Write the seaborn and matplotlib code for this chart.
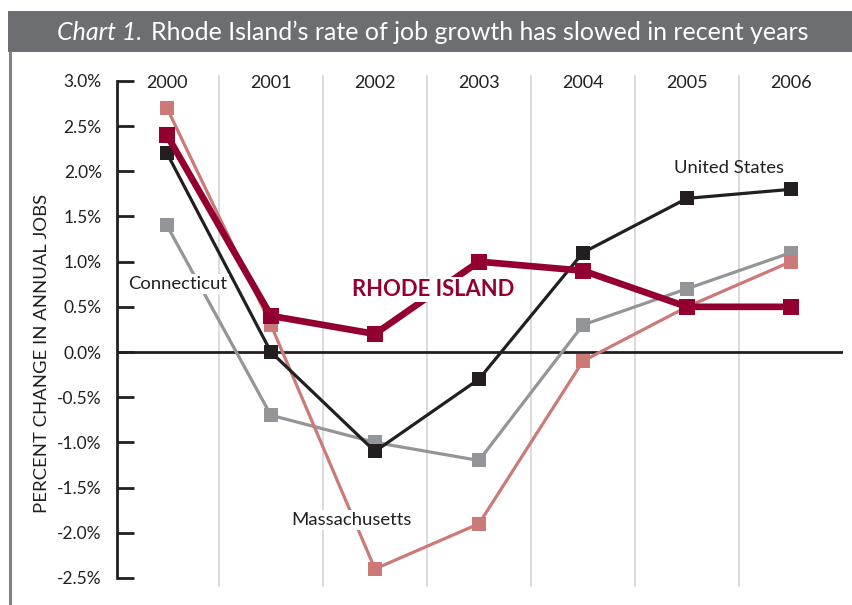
import matplotlib
matplotlib.use("Agg")
import matplotlib.pyplot as plt
import seaborn as sns
import pandas as pd
from matplotlib.patches import Rectangle
from matplotlib.lines import Line2D

# Annual percent change in jobs
years = [2000, 2001, 2002, 2003, 2004, 2005, 2006]
connecticut = [1.4, -0.7, -1.0, -1.2, 0.3, 0.7, 1.1]
massachusetts = [2.7, 0.3, -2.4, -1.9, -0.1, 0.5, 1.0]
united_states = [2.2, 0.0, -1.1, -0.3, 1.1, 1.7, 1.8]
rhode_island = [2.4, 0.4, 0.2, 1.0, 0.9, 0.5, 0.5]

y_ticks = [3.0, 2.5, 2.0, 1.5, 1.0, 0.5, 0.0, -0.5, -1.0, -1.5, -2.0, -2.5]
y_tick_labels = ["3.0%", "2.5%", "2.0%", "1.5%", "1.0%", "0.5%", "0.0%",
                 "-0.5%", "-1.0%", "-1.5%", "-2.0%", "-2.5%"]

series = {
    "Connecticut": connecticut,
    "Massachusetts": massachusetts,
    "United States": united_states,
    "Rhode Island": rhode_island,
}
df = pd.DataFrame(
    [(name, yr, v) for name, vals in series.items() for yr, v in zip(years, vals)],
    columns=["region", "year", "change"],
)

colors = {
    "Connecticut": "#939598",
    "Massachusetts": "#CB7A78",
    "United States": "#231F20",
    "Rhode Island": "#930030",
}
widths = {"Connecticut": 2.3, "Massachusetts": 2.3, "United States": 2.3, "Rhode Island": 4.8}
msizes = {"Connecticut": 10.5, "Massachusetts": 10.5, "United States": 10.5, "Rhode Island": 11.5}

sns.set_theme(style="white")
plt.rcParams["font.family"] = ["Lato", "DejaVu Sans"]

W, H = 853, 605
fig = plt.figure(figsize=(W / 100, H / 100), dpi=100)

# Title bar and left frame line
fig.patches.append(Rectangle((8 / W, 1 - 52 / H), 1 - 8 / W, 41 / H,
                             transform=fig.transFigure, facecolor="#6D6E71",
                             edgecolor="none", zorder=0))
fig.lines.append(Line2D([9.5 / W, 9.5 / W], [0, 1 - 52 / H], transform=fig.transFigure,
                        color="#808285", linewidth=2.2))
t1 = fig.text(57 / W, 1 - 32 / H, "Chart 1.", color="white", fontsize=18,
              fontstyle="italic", ha="left", va="center")
fig.canvas.draw()
bb = t1.get_window_extent()
fig.text((bb.x1 + 9) / W, 1 - 32 / H,
         "Rhode Island\u2019s rate of job growth has slowed in recent years",
         color="white", fontsize=18, ha="left", va="center")

# Plot area: x from 117 to 843 px, y from 3.065 to -2.6
ax = fig.add_axes([117 / W, 1 - 587 / H, (843 - 117) / W, (587 - 75) / H])
ax.set_xlim(1999.52, 2006.5)
ax.set_ylim(-2.6, 3.065)

# Vertical separators between years
for yr in years[:-1]:
    ax.axvline(yr + 0.5, color="#D9D9DA", linewidth=1.3, zorder=0)

# Zero line
ax.axhline(0, color="#231F20", linewidth=2.0, zorder=1)

for name in series:
    sub = df[df["region"] == name]
    sns.lineplot(data=sub, x="year", y="change", ax=ax, color=colors[name],
                 linewidth=widths[name], marker="s", markersize=msizes[name],
                 markeredgewidth=0, markerfacecolor=colors[name], zorder=3,
                 legend=False)

# Year labels along the top
for yr in years:
    ax.text(yr, 2.98, str(yr), ha="center", va="center", fontsize=13,
            color="#231F20", zorder=5)

# Series labels
box = dict(facecolor="white", edgecolor="none", pad=1.5)
ax.text(1999.625, 0.75, "Connecticut", fontsize=13.3, color="#231F20",
        ha="left", va="center", bbox=box, zorder=4)
ax.text(2002.56, 0.69, "RHODE ISLAND", fontsize=15.8, fontweight="bold",
        color="#930030", ha="center", va="center", bbox=box, zorder=4)
ax.text(2005.40, 2.04, "United States", fontsize=13.3, color="#231F20",
        ha="center", va="center", zorder=4)
ax.text(2001.77, -1.86, "Massachusetts", fontsize=13.3, color="#231F20",
        ha="center", va="center", bbox=box, zorder=4)

# Axis styling
sns.despine(ax=ax, top=True, right=True, bottom=True)
ax.spines["left"].set_bounds(-2.5, 3.0)
ax.spines["left"].set_color("#231F20")
ax.spines["left"].set_linewidth(2.0)
ax.set_yticks(y_ticks)
ax.set_yticklabels(y_tick_labels)
ax.tick_params(axis="y", direction="in", length=12, width=2.0, color="#231F20",
               pad=11, labelsize=12.5, labelcolor="#231F20", left=True)
ax.set_xticks([])
ax.set_xlabel("")
ax.set_ylabel("PERCENT CHANGE IN ANNUAL JOBS", fontsize=13.3, color="#231F20",
              va="center")
ax.yaxis.set_label_coords(-75 / 726, (587 - 353) / 512)
ax.grid(False)
ax.set_facecolor("none")

fig.savefig("out.png", dpi=100)
